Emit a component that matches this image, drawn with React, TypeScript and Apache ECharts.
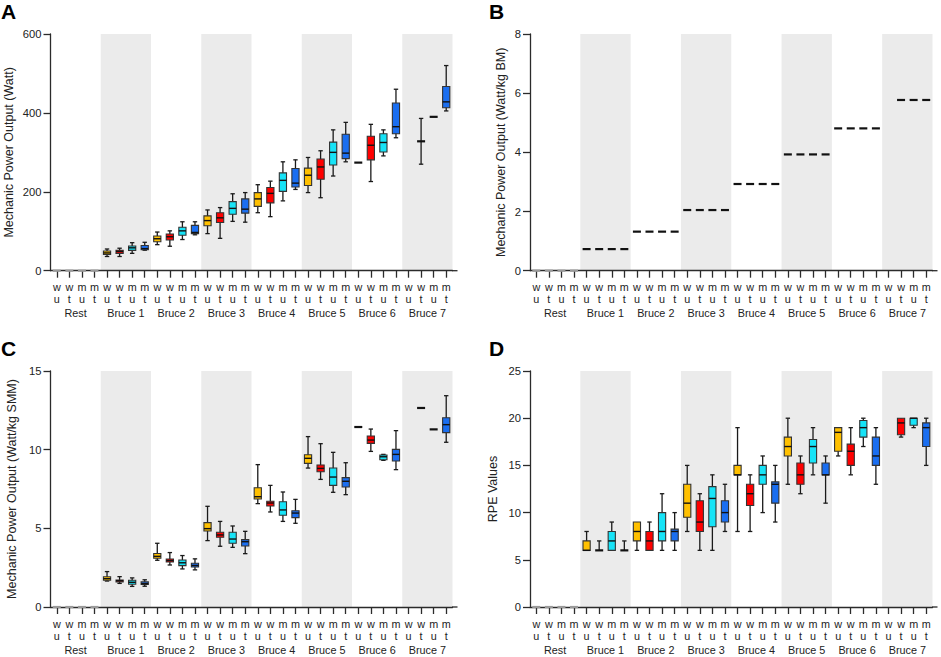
import React, { useEffect, useRef } from "react";
import * as echarts from "echarts";

type Box = [number, number, number, number, number] | null;

const FONT = "'Liberation Sans', Arial, Helvetica, sans-serif";

// ---------- categories ----------
const groups = ["Rest", "Bruce 1", "Bruce 2", "Bruce 3", "Bruce 4", "Bruce 5", "Bruce 6", "Bruce 7"];
const conditions = ["w\nu", "w\nt", "m\nu", "m\nt"];
const conditionColors = ["#FFC000", "#FF0000", "#17E3F7", "#1A6EF0"];
const shadedGroups = ["Bruce 1", "Bruce 3", "Bruce 5", "Bruce 7"];

// ---------- Panel A: Mechanic Power Output (Watt) [min, q1, median, q3, max] ----------
const wattWU: Box[] = [[0, 0, 0, 0, 0], [36, 41, 45, 50, 55], [66, 73.5, 81, 88, 98], [94, 114, 127, 139, 154], [147, 163, 182, 198, 218], [198, 216, 242, 260, 287], [274, 274, 274, 274, 274], null];
const wattWT: Box[] = [[0, 0, 0, 0, 0], [36, 44, 49, 52, 57], [62, 78, 86, 93, 101], [82, 122, 134, 147, 160], [137, 172, 196, 211, 227], [185, 232, 263, 283, 304], [226, 281, 318, 341, 371], [270, 328, 328, 328, 386]];
const wattMU: Box[] = [[0, 0, 0, 0, 0], [44, 51.5, 58, 62.5, 71], [79, 90, 101, 110, 124], [125, 143, 158, 175, 195], [177, 201, 229, 248, 276], [240, 268, 300, 326, 357], [291, 301, 325, 347, 357], [390, 390, 390, 390, 390]];
const wattMT: Box[] = [[0, 0, 0, 0, 0], [52, 53, 56, 64, 72], [91, 94, 97, 115, 124], [123, 146, 156, 182, 198], [206, 212, 222, 259, 281], [276, 284, 298, 346, 376], [337, 347, 365, 425, 460], [405, 413, 428, 467, 520]];

// ---------- Panel B: Watt/kg BM ----------
const bmWU: Box[] = [[0, 0, 0, 0, 0], [0.73, 0.73, 0.73, 0.73, 0.73], [1.32, 1.32, 1.32, 1.32, 1.32], [2.05, 2.05, 2.05, 2.05, 2.05], [2.93, 2.93, 2.93, 2.93, 2.93], [3.93, 3.93, 3.93, 3.93, 3.93], [4.81, 4.81, 4.81, 4.81, 4.81], null];
const bmWT: Box[] = [[0, 0, 0, 0, 0], [0.73, 0.73, 0.73, 0.73, 0.73], [1.32, 1.32, 1.32, 1.32, 1.32], [2.05, 2.05, 2.05, 2.05, 2.05], [2.93, 2.93, 2.93, 2.93, 2.93], [3.93, 3.93, 3.93, 3.93, 3.93], [4.81, 4.81, 4.81, 4.81, 4.81], [5.77, 5.77, 5.77, 5.77, 5.77]];
const bmMU: Box[] = [[0, 0, 0, 0, 0], [0.73, 0.73, 0.73, 0.73, 0.73], [1.32, 1.32, 1.32, 1.32, 1.32], [2.05, 2.05, 2.05, 2.05, 2.05], [2.93, 2.93, 2.93, 2.93, 2.93], [3.93, 3.93, 3.93, 3.93, 3.93], [4.81, 4.81, 4.81, 4.81, 4.81], [5.77, 5.77, 5.77, 5.77, 5.77]];
const bmMT: Box[] = [[0, 0, 0, 0, 0], [0.73, 0.73, 0.73, 0.73, 0.73], [1.32, 1.32, 1.32, 1.32, 1.32], [2.05, 2.05, 2.05, 2.05, 2.05], [2.93, 2.93, 2.93, 2.93, 2.93], [3.93, 3.93, 3.93, 3.93, 3.93], [4.81, 4.81, 4.81, 4.81, 4.81], [5.77, 5.77, 5.77, 5.77, 5.77]];

// ---------- Panel C: Watt/kg SMM ----------
const smmWU: Box[] = [[0, 0, 0, 0, 0], [1.65, 1.7, 1.8, 1.92, 2.25], [2.97, 3.1, 3.22, 3.4, 4.05], [4.22, 4.83, 4.98, 5.36, 6.4], [6.57, 6.86, 7.01, 7.58, 9.05], [8.83, 9.13, 9.45, 9.68, 10.83], [11.44, 11.44, 11.44, 11.44, 11.44], null];
const smmWT: Box[] = [[0, 0, 0, 0, 0], [1.5, 1.6, 1.67, 1.72, 1.93], [2.67, 2.86, 2.95, 3.05, 3.46], [3.86, 4.43, 4.58, 4.75, 5.44], [6.04, 6.42, 6.61, 6.72, 7.73], [8.11, 8.6, 8.81, 9.03, 10.38], [9.89, 10.4, 10.61, 10.87, 11.31], [12.65, 12.65, 12.65, 12.65, 12.65]];
const smmMU: Box[] = [[0, 0, 0, 0, 0], [1.31, 1.45, 1.57, 1.7, 1.85], [2.42, 2.63, 2.81, 2.99, 3.27], [3.79, 4.05, 4.32, 4.75, 5.15], [5.44, 5.83, 6.17, 6.69, 7.31], [7.29, 7.73, 8.26, 8.83, 9.83], [9.32, 9.36, 9.55, 9.66, 9.7], [11.29, 11.29, 11.29, 11.29, 11.29]];
const smmMT: Box[] = [[0, 0, 0, 0, 0], [1.32, 1.44, 1.48, 1.6, 1.73], [2.36, 2.54, 2.64, 2.78, 3.06], [3.39, 3.88, 4.15, 4.28, 4.81], [5.32, 5.68, 5.97, 6.12, 6.84], [7.14, 7.63, 7.99, 8.22, 9.17], [8.73, 9.28, 9.7, 10.02, 11.21], [10.47, 11.08, 11.59, 12.03, 13.43]];

// ---------- Panel D: RPE Values ----------
const rpeWU: Box[] = [[0, 0, 0, 0, 0], [6, 6, 6, 7, 8], [6, 7, 8, 9, 9], [8, 9.5, 11, 13, 15], [8, 14, 14, 15, 19], [13, 16, 17, 18, 20], [16, 16.5, 18.5, 19, 19], null];
const rpeWT: Box[] = [[0, 0, 0, 0, 0], [6, 6, 6, 6, 7], [6, 6, 7, 8, 9], [6, 8, 9, 11.25, 12], [8, 10.75, 12, 13, 14], [12, 13, 14, 15.25, 16], [14, 15, 16.5, 17.25, 19], [18, 18.25, 19.5, 20, 20]];
const rpeMU: Box[] = [[0, 0, 0, 0, 0], [6, 6, 7, 8, 9], [6, 7, 8, 10, 12], [6, 8.5, 11.5, 12.75, 14], [10, 13, 14, 15, 16], [14, 15.25, 17, 17.75, 19], [17, 18, 19, 19.75, 20], [19, 19.25, 20, 20, 20]];
const rpeMT: Box[] = [[0, 0, 0, 0, 0], [6, 6, 6, 6, 7], [6, 7, 8, 8.25, 10], [8, 9, 10, 11.25, 13], [9, 11, 13, 13.25, 15], [11, 14, 14, 15.25, 16], [13, 15, 16, 18, 19], [15, 17, 19, 19.5, 20]];

// ---------- axes ----------
const yNames = ["Mechanic Power Output (Watt)", "Mechanic Power Output (Watt/kg BM)", "Mechanic Power Output (Watt/kg SMM)", "RPE Values"];
const yMax = [600, 8, 15, 25];
const yInterval = [200, 2, 5, 5];
const panelLetters = ["A", "B", "C", "D"];
const panelData: Box[][][] = [
  [wattWU, wattWT, wattMU, wattMT],
  [bmWU, bmWT, bmMU, bmMT],
  [smmWU, smmWT, smmMU, smmMT],
  [rpeWU, rpeWT, rpeMU, rpeMT],
];

// layout (pixels)
const layouts = [
  { left: 50.5, top: 34, width: 402, height: 236.7, nameGap: 35, lx: 1, ly: 11.7 },
  { left: 530, top: 34, width: 402.5, height: 236.7, nameGap: 22.5, lx: 489, ly: 11.7 },
  { left: 50.5, top: 371, width: 402, height: 236, nameGap: 32, lx: 1, ly: 348.8 },
  { left: 530, top: 371, width: 402.5, height: 236, nameGap: 31, lx: 489, ly: 348.8 },
];
const axisOverhang = 5;

const TEXT = "#222";
const AXIS = "#2b2b2b";

const categoryKeys: string[] = [];
groups.forEach((g) => conditions.forEach((c) => categoryKeys.push(g + "|" + c)));

const renderBox = (params: any, api: any) => {
  const xi = api.value(0);
  const v = [1, 2, 3, 4, 5].map((i) => api.value(i) as number);
  const ci = api.value(6) as number;
  const pMin = api.coord([xi, v[0]]);
  const cx = pMin[0];
  const yMin = pMin[1];
  const yQ1 = api.coord([xi, v[1]])[1];
  const yMed = api.coord([xi, v[2]])[1];
  const yQ3 = api.coord([xi, v[3]])[1];
  const yMaxP = api.coord([xi, v[4]])[1];
  const bw = 7.2;
  const cap = 4.4;
  const flat = Math.abs(v[3] - v[1]) < 1e-9;
  const isZero = v[4] === 0;
  const children: any[] = [];
  const wStyle = { stroke: "#1a1a1a", lineWidth: 1.3 };
  if (yMin - yMaxP > 0.5) {
    children.push({ type: "line", shape: { x1: cx, y1: yMin, x2: cx, y2: yMaxP }, style: wStyle });
    if (v[0] < v[1]) children.push({ type: "line", shape: { x1: cx - cap / 2, y1: yMin, x2: cx + cap / 2, y2: yMin }, style: wStyle });
    if (v[4] > v[3]) children.push({ type: "line", shape: { x1: cx - cap / 2, y1: yMaxP, x2: cx + cap / 2, y2: yMaxP }, style: wStyle });
  }
  if (!flat) {
    children.push({
      type: "rect",
      shape: { x: cx - bw / 2, y: yQ3, width: bw, height: yQ1 - yQ3 },
      style: { fill: conditionColors[ci], stroke: "#333", lineWidth: 1.1 },
    });
  }
  const ext = flat ? 0.4 : 0;
  children.push({
    type: "line",
    shape: { x1: cx - bw / 2 - ext, y1: yMed, x2: cx + bw / 2 + ext, y2: yMed },
    style: { stroke: isZero ? "#9a9a9a" : "#111", lineWidth: flat ? 2.2 : 1.4 },
  });
  return { type: "group", children };
};

const renderBand = (params: any, api: any) => {
  const start = api.value(0);
  const c0 = api.coord([start, 0]);
  const w = api.size([1, 0])[0];
  const cs = params.coordSys;
  return {
    type: "rect",
    shape: { x: c0[0] - w / 2, y: cs.y, width: w * conditions.length, height: cs.height },
    style: { fill: "#ebebeb" },
  };
};

function buildOption() {
  const grid: any[] = [];
  const xAxis: any[] = [];
  const yAxis: any[] = [];
  const series: any[] = [];
  const graphic: any[] = [];

  layouts.forEach((L, p) => {
    grid.push({ left: L.left, top: L.top, width: L.width, height: L.height, containLabel: false, outerBoundsMode: "none" });
    xAxis.push({
      type: "category",
      gridIndex: p,
      data: categoryKeys,
      position: "bottom",
      boundaryGap: true,
      axisLine: { show: true, onZero: false, lineStyle: { color: AXIS, width: 1.3 } },
      axisTick: { show: true, alignWithLabel: true, interval: 0, length: 7, lineStyle: { color: AXIS, width: 1.3 } },
      axisLabel: {
        show: true,
        interval: 0,
        margin: 10.5,
        fontSize: 10.8,
        lineHeight: 12,
        color: TEXT,
        fontFamily: FONT,
        formatter: (val: string) => val.split("|")[1],
      },
      splitLine: { show: false },
    });
    xAxis.push({
      type: "category",
      gridIndex: p,
      data: groups,
      position: "bottom",
      boundaryGap: true,
      axisLine: { show: false },
      axisTick: { show: false },
      axisLabel: { show: true, interval: 0, margin: 36.5, fontSize: 10.8, lineHeight: 12, color: TEXT, fontFamily: FONT },
      splitLine: { show: false },
    });
    yAxis.push({
      type: "value",
      gridIndex: p,
      min: 0,
      max: yMax[p],
      interval: yInterval[p],
      name: yNames[p],
      nameLocation: "middle",
      nameGap: L.nameGap,
      nameTextStyle: { fontSize: 12.5, color: TEXT, fontFamily: FONT },
      axisLine: { show: true, lineStyle: { color: AXIS, width: 1.3 } },
      axisTick: { show: true, length: 7, lineStyle: { color: AXIS, width: 1.3 } },
      axisLabel: { show: true, margin: 9, fontSize: 11.2, color: TEXT, fontFamily: FONT },
      splitLine: { show: false },
    });

    series.push({
      type: "custom",
      xAxisIndex: p * 2,
      yAxisIndex: p,
      z: 0,
      silent: true,
      renderItem: renderBand,
      encode: { x: 0, y: 1 },
      data: shadedGroups.map((g) => [groups.indexOf(g) * conditions.length, 0]),
    });

    const boxData: any[] = [];
    panelData[p].forEach((arr, ci) => {
      arr.forEach((b, gi) => {
        if (b) boxData.push([gi * conditions.length + ci, b[0], b[1], b[2], b[3], b[4], ci]);
      });
    });
    series.push({
      type: "custom",
      xAxisIndex: p * 2,
      yAxisIndex: p,
      z: 3,
      clip: false,
      silent: true,
      renderItem: renderBox,
      encode: { x: 0, y: [1, 2, 3, 4, 5] },
      data: boxData,
    });

    // small overhang of the x axis line past the last category, as in the reference
    graphic.push({
      type: "line",
      z: 5,
      silent: true,
      shape: { x1: L.left + L.width - 0.5, y1: L.top + L.height, x2: L.left + L.width + axisOverhang, y2: L.top + L.height },
      style: { stroke: AXIS, lineWidth: 1.3 },
    });

    graphic.push({
      type: "text",
      x: L.lx,
      y: L.ly,
      z: 10,
      style: {
        text: panelLetters[p],
        fontSize: 21,
        fontWeight: "bold",
        fontFamily: FONT,
        fill: "#000",
        verticalAlign: "middle",
        align: "left",
      },
    });
  });

  return {
    animation: false,
    backgroundColor: "#ffffff",
    textStyle: { fontFamily: FONT },
    grid,
    xAxis,
    yAxis,
    series,
    graphic,
  };
}

export default function App() {
  const ref = useRef<HTMLDivElement>(null);
  useEffect(() => {
    if (!ref.current) return;
    const chart = echarts.init(ref.current, undefined, { renderer: "svg" });
    chart.setOption(buildOption() as any);
    return () => chart.dispose();
  }, []);
  return (
    <div
      ref={ref}
      style={{ position: "fixed", left: 0, top: 0, width: 941, height: 657, background: "#fff" }}
    />
  );
}
